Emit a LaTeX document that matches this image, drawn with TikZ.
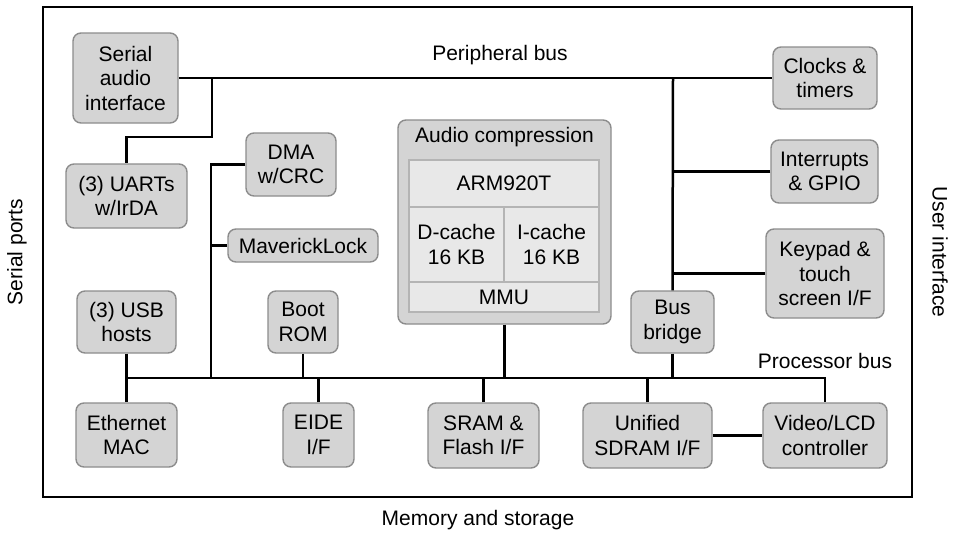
\documentclass[tikz,border=0pt]{standalone}
\usepackage{fontspec}
\setmainfont{Liberation Sans}
\definecolor{boxfill}{RGB}{212,212,212}
\definecolor{boxborder}{RGB}{140,140,140}
\definecolor{cellfill}{RGB}{232,232,232}
\definecolor{cellborder}{RGB}{180,180,180}
\newcommand\lblfont{\fontsize{21}{24.5}\selectfont}
\tikzset{
  box/.style={draw=boxborder, fill=boxfill, rounded corners=8pt, line width=1.4pt, align=center, font=\lblfont, inner sep=0pt},
  cell/.style={draw=cellborder, fill=cellfill, line width=1.4pt, align=center, font=\lblfont, inner sep=0pt},
  bus/.style={line width=2.5pt, black},
  lbl/.style={font=\lblfont, inner sep=0pt},
}
\begin{document}
\begin{tikzpicture}[x=1pt,y=-1pt]
\useasboundingbox (0,0) rectangle (956,536);
\draw[line width=2.5pt] (43,7) rectangle (912,497);

% nodes
\node[box, minimum width=105pt, minimum height=90pt] (sai) at (125.5,78) {Serial\\audio\\interface};
\node[box, minimum width=121pt, minimum height=64pt] (uart) at (126.5,196) {(3) UARTs\\w/IrDA};
\node[box, minimum width=90pt, minimum height=63pt] (dma) at (291,164.5) {DMA\\w/CRC};
\node[box, minimum width=150pt, minimum height=33pt] (mav) at (303,245.5) {MaverickLock};
\node[box, minimum width=99pt, minimum height=62pt] (usb) at (126.5,322) {(3) USB\\hosts};
\node[box, minimum width=70pt, minimum height=62pt] (boot) at (303,322) {Boot\\ROM};
\node[box, minimum width=101pt, minimum height=64pt] (eth) at (126.5,435) {Ethernet\\MAC};
\node[box, minimum width=71pt, minimum height=64pt] (eide) at (318.5,435) {EIDE\\I/F};
\node[box, minimum width=111pt, minimum height=65pt] (sram) at (483.5,435.5) {SRAM \&\\Flash I/F};
\node[box, minimum width=129pt, minimum height=65pt] (sdram) at (647.5,435.5) {Unified\\SDRAM I/F};
\node[box, minimum width=124pt, minimum height=65pt] (video) at (825,435.5) {Video/LCD\\controller};
\node[box, minimum width=83pt, minimum height=62pt] (bridge) at (672.5,322) {Bus\\bridge};
\node[box, minimum width=104pt, minimum height=62pt] (clk) at (825,78) {Clocks \&\\timers};
\node[box, minimum width=107pt, minimum height=63pt] (irq) at (824.5,171.5) {Interrupts\\\& GPIO};
\node[box, minimum width=118pt, minimum height=89pt] (key) at (825,273.5) {Keypad \&\\touch\\screen I/F};

% audio compression block
\node[box, minimum width=213pt, minimum height=204pt] (ac) at (504.5,222) {};
\node[lbl] (actitle) at (504.5,137) {Audio compression};
\node[cell, minimum width=190pt, minimum height=47pt] (arm) at (504,183.5) {ARM920T};
\node[cell, minimum width=95pt, minimum height=75pt] (dc) at (456.5,244.5) {D-cache\\16 KB};
\node[cell, minimum width=95pt, minimum height=75pt] (ic) at (551.5,244.5) {I-cache\\16 KB};
\node[cell, minimum width=190pt, minimum height=30pt] (mmu) at (504,297) {MMU};

% peripheral bus
\coordinate (pb1) at (212,78);
\coordinate (uj) at (212,137);
\coordinate (pb2) at (673,78);
\draw[bus] (sai.east) -- (clk.west);
\draw[bus] (pb1) -- (uj) -| (uart.north);
\draw[bus] (pb2) -- (bridge.north);
\draw[bus] (irq.west) -- (irq.west -| bridge.north);
\draw[bus] (key.west) -- (key.west -| bridge.north);

% processor bus
\coordinate (pbl) at (126.5,378);
\coordinate (pbr) at (825,378);
\coordinate (dj) at (211,378);
\draw[bus] (usb.south) -- (eth.north);
\draw[bus] (pbl) -- (pbr) -- (video.north);
\draw[bus] (boot.south) -- (boot.south |- pbl);
\draw[bus] (eide.north) -- (eide.north |- pbl);
\draw[bus] (sram.north) -- (sram.north |- pbl);
\draw[bus] (sdram.north) -- (sdram.north |- pbl);
\draw[bus] (bridge.south) -- (bridge.south |- pbl);
\draw[bus] (ac.south) -- (ac.south |- pbl);
\draw[bus] (dma.west) -| (dj);
\draw[bus] (mav.west) -- (mav.west -| dj);
\draw[bus] (sdram.east) -- (video.west);

% labels
\node[lbl] (pblabel) at (500,55) {Peripheral bus};
\node[lbl] (prlabel) at (825,361) {Processor bus};
\node[lbl, rotate=90] (serial) at (17,252) {Serial ports};
\node[lbl, rotate=-90] (user) at (940,252) {User interface};
\node[lbl] (mem) at (478,520) {Memory and storage};
\end{tikzpicture}
\end{document}
